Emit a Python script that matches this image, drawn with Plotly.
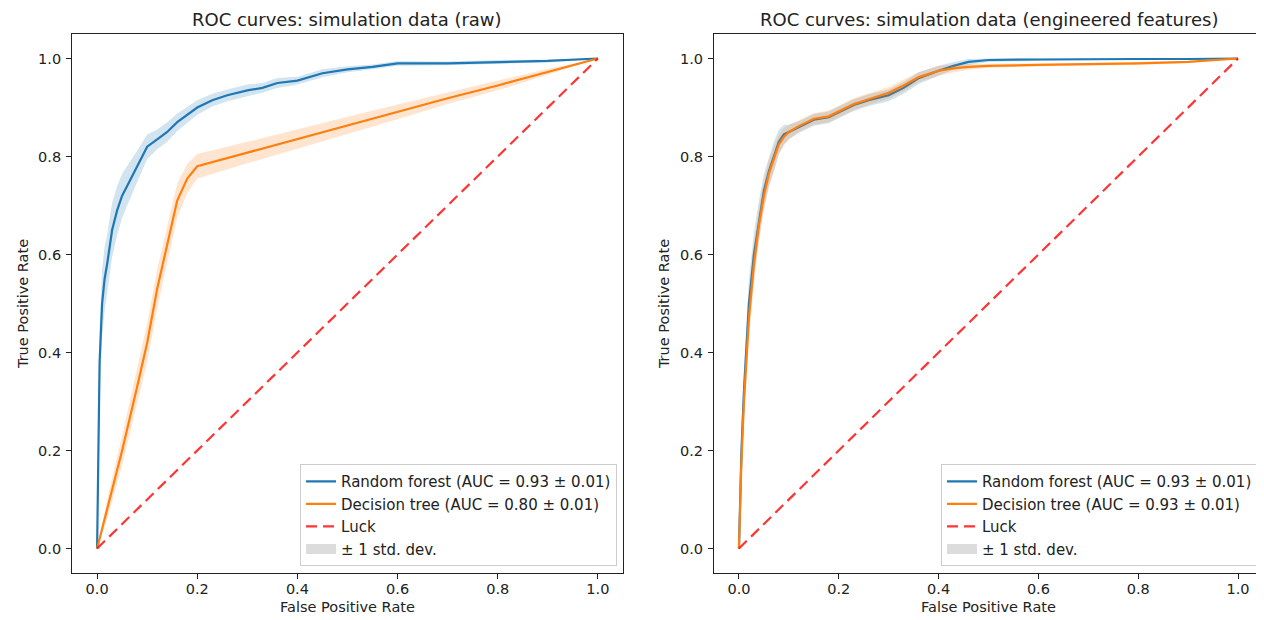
import plotly.graph_objects as go
from plotly.subplots import make_subplots

# ---- left panel: raw simulation data ----
fpr_rf_raw = [0, 0.002, 0.005, 0.01, 0.015, 0.02, 0.03, 0.04, 0.05, 0.06, 0.08, 0.1, 0.12, 0.14, 0.16,
              0.18, 0.2, 0.23, 0.26, 0.3, 0.33, 0.36, 0.4, 0.45, 0.5, 0.55, 0.6, 0.7, 0.8, 0.9, 1.0]
tpr_rf_raw = [0, 0.2, 0.38, 0.5, 0.55, 0.58, 0.65, 0.69, 0.72, 0.74, 0.78, 0.82, 0.835, 0.85, 0.87,
              0.885, 0.9, 0.915, 0.925, 0.935, 0.94, 0.95, 0.955, 0.97, 0.978, 0.983, 0.99, 0.99, 0.993, 0.995, 1.0]
std_rf_raw = [0, 0.06, 0.07, 0.07, 0.065, 0.06, 0.055, 0.05, 0.045, 0.04, 0.032, 0.025, 0.02, 0.02, 0.018,
              0.016, 0.015, 0.013, 0.012, 0.012, 0.01, 0.01, 0.008, 0.008, 0.006, 0.005, 0.005, 0.004, 0.004, 0.003, 0]

fpr_dt_raw = [0, 0.02, 0.05, 0.08, 0.1, 0.12, 0.14, 0.16, 0.18, 0.2, 0.3, 0.4, 0.5, 0.6, 0.7, 0.8, 0.9, 1.0]
tpr_dt_raw = [0, 0.08, 0.2, 0.33, 0.42, 0.53, 0.62, 0.71, 0.755, 0.78, 0.808, 0.836, 0.863, 0.891, 0.919, 0.945, 0.973, 1.0]
std_dt_raw = [0, 0.02, 0.03, 0.035, 0.04, 0.04, 0.04, 0.035, 0.03, 0.025, 0.022, 0.02, 0.018, 0.015, 0.012, 0.01, 0.006, 0]

# ---- right panel: engineered features ----
fpr_eng = [0, 0.005, 0.01, 0.02, 0.03, 0.04, 0.05, 0.06, 0.07, 0.08, 0.09, 0.1, 0.12, 0.15, 0.18, 0.2,
           0.23, 0.26, 0.3, 0.33, 0.36, 0.4, 0.43, 0.46, 0.5, 0.6, 0.7, 0.8, 0.9, 1.0]
tpr_rf_eng = [0, 0.2, 0.32, 0.5, 0.6, 0.67, 0.73, 0.77, 0.8, 0.83, 0.845, 0.85, 0.86, 0.875, 0.88, 0.89,
              0.905, 0.915, 0.925, 0.94, 0.96, 0.975, 0.985, 0.993, 0.997, 0.998, 0.999, 0.999, 0.999, 1.0]
std_rf_eng = [0, 0.05, 0.05, 0.05, 0.045, 0.04, 0.035, 0.03, 0.03, 0.025, 0.02, 0.015, 0.012, 0.012, 0.012, 0.012,
              0.012, 0.012, 0.012, 0.012, 0.012, 0.01, 0.008, 0.006, 0.004, 0.003, 0.002, 0.002, 0.002, 0]
tpr_dt_eng = [0, 0.18, 0.3, 0.47, 0.58, 0.66, 0.72, 0.765, 0.795, 0.825, 0.84, 0.85, 0.862, 0.877, 0.882, 0.892,
              0.907, 0.917, 0.93, 0.945, 0.962, 0.975, 0.98, 0.983, 0.985, 0.987, 0.988, 0.99, 0.993, 1.0]
std_dt_eng = [0, 0.04, 0.045, 0.045, 0.04, 0.035, 0.03, 0.028, 0.025, 0.02, 0.018, 0.015, 0.012, 0.012, 0.012, 0.012,
              0.012, 0.012, 0.012, 0.012, 0.01, 0.01, 0.008, 0.006, 0.004, 0.003, 0.003, 0.003, 0.002, 0]

titles = ['ROC curves: simulation data (raw)', 'ROC curves: simulation data (engineered features)']
labels_raw = ['Random forest (AUC = 0.93 ± 0.01)', 'Decision tree (AUC = 0.80 ± 0.01)']
labels_eng = ['Random forest (AUC = 0.93 ± 0.01)', 'Decision tree (AUC = 0.93 ± 0.01)']

BLUE = '#1f77b4'
ORANGE = '#ff7f0e'
FONT = 'DejaVu Sans'
TXT = '#222'

# the page body has an 8px margin, so the figure is a little smaller than the window
W, H = 1256, 612

fig = make_subplots(rows=1, cols=2)


def add_curve(fpr, tpr, std, color, fill, name, col, legend):
    upper = [min(m + s, 1.0) for m, s in zip(tpr, std)]
    lower = [max(m - s, 0.0) for m, s in zip(tpr, std)]
    fig.add_trace(go.Scatter(x=fpr, y=lower, mode='lines', line=dict(width=0), showlegend=False,
                             hoverinfo='skip'), row=1, col=col)
    fig.add_trace(go.Scatter(x=fpr, y=upper, mode='lines', line=dict(width=0), fill='tonexty',
                             fillcolor=fill, showlegend=False, hoverinfo='skip'), row=1, col=col)
    fig.add_trace(go.Scatter(x=fpr, y=tpr, mode='lines', line=dict(color=color, width=2.2),
                             name=name, legend=legend), row=1, col=col)


for col, legend, curves in [
    (1, 'legend', [(fpr_rf_raw, tpr_rf_raw, std_rf_raw, labels_raw[0]),
                   (fpr_dt_raw, tpr_dt_raw, std_dt_raw, labels_raw[1])]),
    (2, 'legend2', [(fpr_eng, tpr_rf_eng, std_rf_eng, labels_eng[0]),
                    (fpr_eng, tpr_dt_eng, std_dt_eng, labels_eng[1])]),
]:
    add_curve(*curves[0][:3], BLUE, 'rgba(31,119,180,0.2)', curves[0][3], col, legend)
    add_curve(*curves[1][:3], ORANGE, 'rgba(255,127,14,0.2)', curves[1][3], col, legend)
    fig.add_trace(go.Scatter(x=[0, 1], y=[0, 1], mode='lines', name='Luck', legend=legend,
                             line=dict(color='rgba(255,0,0,0.8)', width=2.2, dash='11px,6px')), row=1, col=col)
    # legend-only entry for the shaded band
    fig.add_trace(go.Scatter(x=[None], y=[None], mode='lines', line=dict(color='#dcdcdc', width=11),
                             name='± 1 std. dev.', legend=legend), row=1, col=col)

axis_style = dict(range=[-0.05, 1.05], showgrid=False, zeroline=False, showline=True, mirror=True,
                  linecolor=TXT, linewidth=1, ticks='outside', ticklen=5, tickcolor=TXT, automargin=False,
                  tickvals=[0, 0.2, 0.4, 0.6, 0.8, 1.0], ticktext=['0.0', '0.2', '0.4', '0.6', '0.8', '1.0'],
                  tickfont=dict(size=14.5, color=TXT, family=FONT))

fig.update_xaxes(axis_style)
fig.update_yaxes(axis_style)
fig.update_xaxes(ticklabelstandoff=-2,
                 title=dict(text='False Positive Rate', font=dict(size=14.5, color=TXT, family=FONT), standoff=5))
fig.update_yaxes(ticklabelstandoff=2,
                 title=dict(text='True Positive Rate', font=dict(size=14.5, color=TXT, family=FONT), standoff=6))
fig.update_layout(
    xaxis=dict(domain=[0.0510, 0.4896]),
    xaxis2=dict(domain=[0.5621, 0.9992]),
    yaxis=dict(domain=[0.0768, 0.9575]),
    yaxis2=dict(domain=[0.0768, 0.9575]),
)

for x, t in zip([0.2703, 0.7807], titles):
    fig.add_annotation(text=t, x=x, y=0.982, xref='paper', yref='paper', xanchor='center', yanchor='middle',
                       showarrow=False, font=dict(size=18, color=TXT, family=FONT))

legend_style = dict(xanchor='right', yanchor='bottom', y=0.088, bgcolor='rgba(255,255,255,0.8)',
                    bordercolor='#cccccc', borderwidth=1, font=dict(size=15, color=TXT, family=FONT),
                    tracegroupgap=0, itemwidth=30, traceorder='normal')
fig.update_layout(
    width=W, height=H,
    margin=dict(l=0, r=0, t=0, b=0, autoexpand=False),
    plot_bgcolor='white', paper_bgcolor='white',
    font=dict(family=FONT),
    legend=dict(legend_style, x=0.4849),
    legend2=dict(legend_style, x=0.9952),
)

fig.write_html('out.html')
